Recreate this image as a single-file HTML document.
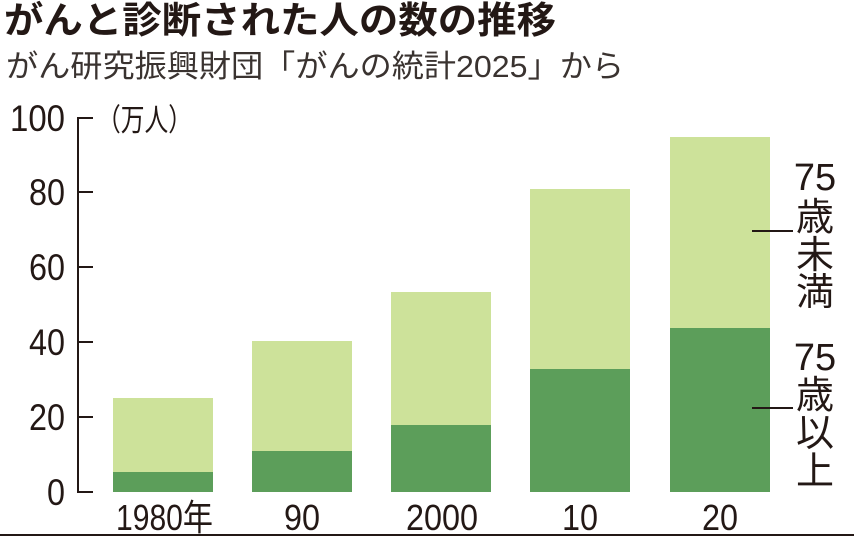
<!DOCTYPE html>
<html><head><meta charset="utf-8"><style>
body{margin:0;background:#fff;}
svg{display:block;font-family:"Liberation Sans","Noto Sans CJK JP",sans-serif;}
</style></head><body>
<svg width="854" height="537" viewBox="0 0 854 537">
<text x="4" y="33" font-size="37" font-weight="bold" fill="#231815" textLength="552" lengthAdjust="spacingAndGlyphs">がんと診断された人の数の推移</text>
<text x="6" y="77" font-size="31" fill="#3a3330" textLength="618" lengthAdjust="spacingAndGlyphs">がん研究振興財団「がんの統計2025」から</text>
<g fill="#cde29a">
<rect x="113" y="398" width="100" height="94"/>
<rect x="252" y="341" width="100" height="151"/>
<rect x="391" y="292" width="100" height="200"/>
<rect x="530" y="189" width="100" height="303"/>
<rect x="670" y="137" width="100" height="355"/>
</g>
<g fill="#5c9e5a">
<rect x="113" y="472" width="100" height="20"/>
<rect x="252" y="451" width="100" height="41"/>
<rect x="391" y="425" width="100" height="67"/>
<rect x="530" y="369" width="100" height="123"/>
<rect x="670" y="328" width="100" height="164"/>
</g>
<g stroke="#231815" stroke-width="2" fill="none">
<line x1="78" y1="118" x2="78" y2="492"/>
<line x1="77" y1="118" x2="93" y2="118"/>
<line x1="77" y1="192" x2="93" y2="192"/>
<line x1="77" y1="267" x2="93" y2="267"/>
<line x1="77" y1="342" x2="93" y2="342"/>
<line x1="77" y1="417" x2="93" y2="417"/>
<line x1="77" y1="492" x2="93" y2="492"/>
<line x1="752" y1="231" x2="793" y2="231"/>
<line x1="752" y1="408" x2="793" y2="408"/>
<line x1="0" y1="535" x2="854" y2="535"/>
</g>
<g font-size="37" fill="#231815">
<text x="10" y="131" textLength="55" lengthAdjust="spacingAndGlyphs">100</text>
<text x="29" y="205" textLength="36" lengthAdjust="spacingAndGlyphs">80</text>
<text x="29" y="280" textLength="36" lengthAdjust="spacingAndGlyphs">60</text>
<text x="29" y="355" textLength="36" lengthAdjust="spacingAndGlyphs">40</text>
<text x="29" y="430" textLength="36" lengthAdjust="spacingAndGlyphs">20</text>
<text x="47" y="505" textLength="18" lengthAdjust="spacingAndGlyphs">0</text>
</g>
<text x="97" y="131" font-size="31" fill="#231815" textLength="95" lengthAdjust="spacingAndGlyphs">（万人）</text>
<g font-size="36" fill="#231815">
<text x="116" y="530" textLength="97" lengthAdjust="spacingAndGlyphs">1980年</text>
<text x="284" y="530" textLength="36" lengthAdjust="spacingAndGlyphs">90</text>
<text x="406" y="530" textLength="72" lengthAdjust="spacingAndGlyphs">2000</text>
<text x="562" y="530" textLength="36" lengthAdjust="spacingAndGlyphs">10</text>
<text x="702" y="530" textLength="36" lengthAdjust="spacingAndGlyphs">20</text>
</g>
<g font-size="38" fill="#231815" text-anchor="middle">
<text x="815" y="190">75</text>
<text x="815" y="230">歳</text>
<text x="815" y="268">未</text>
<text x="815" y="305">満</text>
<text x="815" y="370">75</text>
<text x="815" y="408">歳</text>
<text x="815" y="446">以</text>
<text x="815" y="484">上</text>
</g>
</svg>
</body></html>
